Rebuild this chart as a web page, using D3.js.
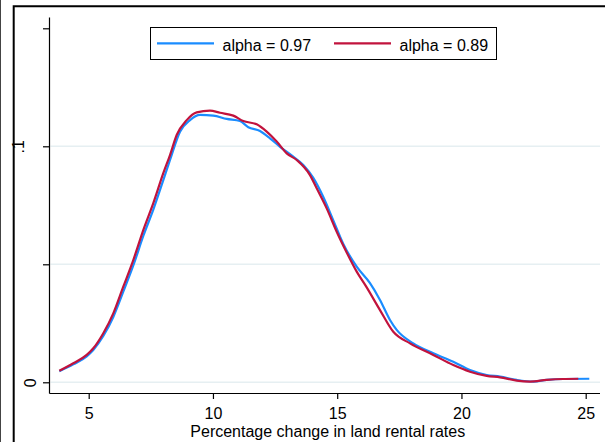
<!DOCTYPE html>
<html>
<head>
<meta charset="utf-8">
<script src="https://cdn.jsdelivr.net/npm/d3@7/dist/d3.min.js"></script>
<style>
  body { margin: 0; background: #fff; }
  svg { display: block; }
  text { font-family: "Liberation Sans", Arial, sans-serif; fill: #000; }
</style>
</head>
<body>
<svg id="chart" width="605" height="442"></svg>
<script>
// Kernel density of the percentage change in land rental rates, two alpha values
const xTicks = [5, 10, 15, 20, 25];
const yTicks = [0, 0.05, 0.1, 0.15];
const yTickLabels = ["0", "", ".1", ""];
const gridValues = [0, 0.05, 0.1];
const seriesNames = ["alpha = 0.97", "alpha = 0.89"];

const rate097 = [3.817, 4.380, 4.920, 5.185, 5.588, 5.990, 6.392, 6.795, 7.197, 7.600,
  8.002, 8.272, 8.675, 9.077, 9.479, 10.014, 10.553, 11.088, 11.423, 11.894,
  12.296, 12.699, 13.233, 13.636, 14.038, 14.441, 14.843, 15.245, 15.785, 16.320,
  16.722, 17.125, 17.394, 18.062, 18.867, 19.672, 20.344, 21.016, 21.551, 22.223,
  22.891, 23.431, 24.099, 25.145];
const density097 = [0.0047, 0.0076, 0.0110, 0.0137, 0.0196, 0.0277, 0.0384, 0.0495, 0.0620, 0.0732,
  0.0857, 0.0942, 0.1062, 0.1111, 0.1133, 0.1130, 0.1116, 0.1107, 0.1081, 0.1065,
  0.1034, 0.0998, 0.0956, 0.0921, 0.0866, 0.0785, 0.0686, 0.0586, 0.0490, 0.0420,
  0.0349, 0.0264, 0.0222, 0.0165, 0.0123, 0.0087, 0.0052, 0.0031, 0.0024, 0.0010,
  0.0003, 0.0010, 0.0014, 0.0015];

const rate089 = [3.817, 4.380, 4.920, 5.185, 5.588, 5.990, 6.392, 6.795, 7.197, 7.600,
  8.002, 8.272, 8.541, 8.944, 9.346, 9.881, 10.284, 10.819, 11.221, 11.761,
  12.163, 12.565, 12.968, 13.370, 13.905, 14.175, 14.577, 14.980, 15.382, 15.785,
  16.187, 16.722, 17.258, 17.930, 18.867, 19.672, 20.344, 21.016, 21.551, 22.223,
  22.759, 23.431, 24.099, 24.702];
const density089 = [0.0049, 0.0081, 0.0116, 0.0144, 0.0208, 0.0292, 0.0405, 0.0518, 0.0645, 0.0759,
  0.0886, 0.0963, 0.1048, 0.1111, 0.1144, 0.1151, 0.1142, 0.1130, 0.1107, 0.1093,
  0.1062, 0.1020, 0.0970, 0.0942, 0.0878, 0.0822, 0.0737, 0.0638, 0.0550, 0.0469,
  0.0402, 0.0306, 0.0214, 0.0165, 0.0116, 0.0073, 0.0045, 0.0027, 0.0021, 0.0007,
  0.0003, 0.0010, 0.0014, 0.0015];

const colors = ["#1a8cff", "#c1133d"];

const svg = d3.select("#chart");
const plot = { left: 49.5, right: 600, top: 17.5, bottom: 393.5 };

const x = d3.scaleLinear().domain([5, 25]).range([88.7, 585.7]);
const y = d3.scaleLinear().domain([0, 0.15]).range([382.3, 28.3]);

// outer frame
svg.append("line").attr("x1", 0.5).attr("x2", 0.5).attr("y1", 0).attr("y2", 442)
  .attr("stroke", "#444").attr("stroke-width", 1);
svg.append("path").attr("d", "M13.7,442V6.3H605")
  .attr("fill", "none").attr("stroke", "#000").attr("stroke-width", 2);

// gridlines
svg.append("g").selectAll("line").data(gridValues).join("line")
  .attr("x1", plot.left + 1).attr("x2", plot.right)
  .attr("y1", d => y(d)).attr("y2", d => y(d))
  .attr("stroke", "#e6eff2").attr("stroke-width", 1.5);

// y axis
const yAxis = svg.append("g").attr("transform", `translate(${plot.left},0)`)
  .call(d3.axisLeft(y).tickValues(yTicks).tickSize(6.5)
    .tickFormat((d, i) => yTickLabels[i]));
yAxis.select(".domain").remove();
yAxis.selectAll(".tick line").attr("stroke", "#000").attr("stroke-width", 1.2);
yAxis.selectAll(".tick text")
  .attr("x", null).attr("dy", null)
  .attr("text-anchor", "middle")
  .attr("font-size", 16)
  .attr("transform", (d, i) => `translate(${yTickLabels[i].length > 1 ? -25.5 : -13.5},0) rotate(-90)`);
svg.append("line").attr("x1", plot.left).attr("x2", plot.left)
  .attr("y1", plot.top).attr("y2", plot.bottom)
  .attr("stroke", "#000").attr("stroke-width", 1.2);

// x axis
const xAxis = svg.append("g").attr("transform", `translate(0,${plot.bottom})`)
  .call(d3.axisBottom(x).tickValues(xTicks).tickSize(5.5).tickFormat(d3.format("d")));
xAxis.select(".domain").remove();
xAxis.selectAll(".tick line").attr("stroke", "#000").attr("stroke-width", 1.2);
xAxis.selectAll(".tick text").attr("y", 25.3).attr("dy", null).attr("font-size", 16);
svg.append("line").attr("x1", plot.left).attr("x2", plot.right)
  .attr("y1", plot.bottom).attr("y2", plot.bottom)
  .attr("stroke", "#000").attr("stroke-width", 1.2);

svg.append("text")
  .attr("x", (plot.left + plot.right) / 2 + 3).attr("y", 437)
  .attr("text-anchor", "middle").attr("font-size", 16)
  .text("Percentage change in land rental rates");

// density curves
const line = d3.line().x(d => x(d[0])).y(d => y(d[1])).curve(d3.curveMonotoneX);
const series = [d3.zip(rate097, density097), d3.zip(rate089, density089)];
svg.append("g").selectAll("path").data(series).join("path")
  .attr("d", line)
  .attr("fill", "none")
  .attr("stroke", (d, i) => colors[i])
  .attr("stroke-width", 2.2)
  .attr("stroke-linejoin", "round");

// legend
const legend = svg.append("g");
legend.append("rect").attr("x", 150.5).attr("y", 27.5).attr("width", 346).attr("height", 32)
  .attr("fill", "#fff").attr("stroke", "#000").attr("stroke-width", 1);
const legendItems = legend.selectAll("g.item").data(seriesNames).join("g")
  .attr("class", "item")
  .attr("transform", (d, i) => `translate(${157 + i * 177},0)`);
legendItems.append("line").attr("x1", 0).attr("x2", 57).attr("y1", 43.3).attr("y2", 43.3)
  .attr("stroke", (d, i) => colors[i]).attr("stroke-width", 2.2);
legendItems.append("text").attr("x", 65.5).attr("y", 50.5).attr("font-size", 16).text(d => d);
</script>
</body>
</html>
